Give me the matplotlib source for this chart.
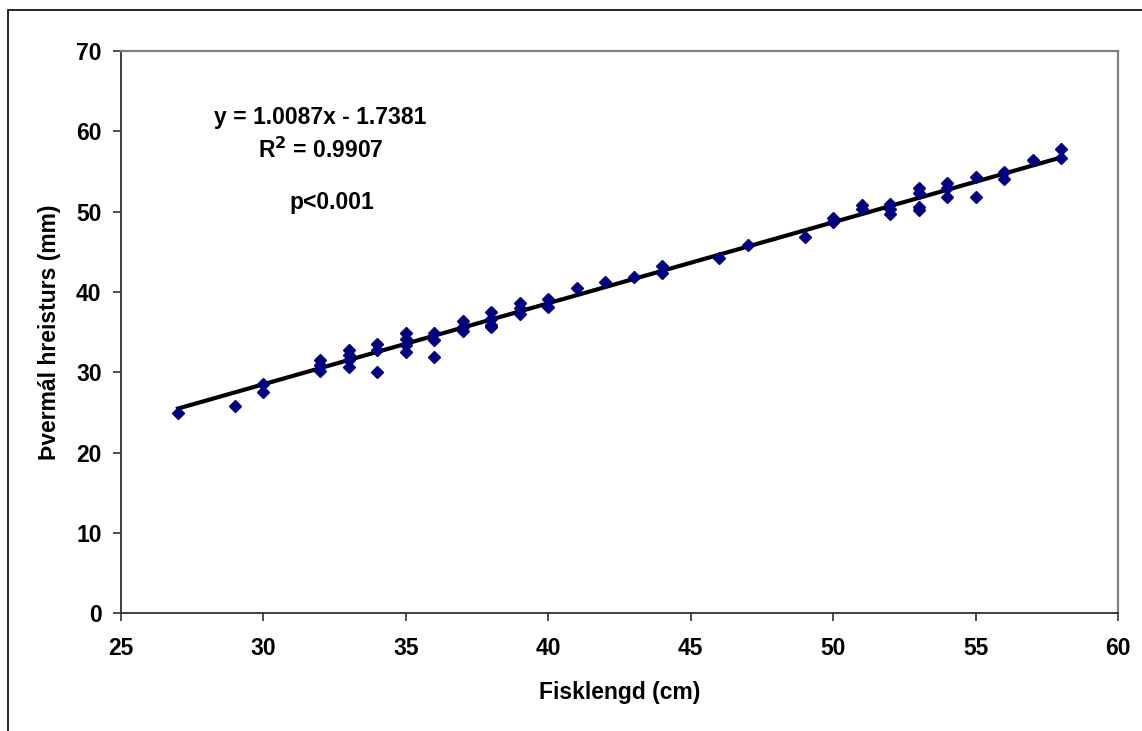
import matplotlib
matplotlib.use("Agg")
import matplotlib.pyplot as plt
import numpy as np
from matplotlib.patches import Rectangle

plt.rcParams["font.family"] = ["Liberation Sans", "DejaVu Sans"]
plt.rcParams["font.weight"] = "bold"

# Fish length (cm) and scale diameter (mm), one entry per fish
fish_length = [
    27, 29, 30, 30, 32, 32, 32, 33, 33, 33, 33, 34, 34, 34,
    35, 35, 35, 35, 36, 36, 36, 37, 37, 37, 38, 38, 38, 38,
    39, 39, 39, 40, 40, 41, 42, 43, 44, 44, 46, 47, 49, 50, 50,
    51, 51, 52, 52, 52, 53, 53, 53, 53, 54, 54, 54, 55, 55,
    56, 56, 57, 58, 58,
]
scale_diameter = [
    25.0, 25.8, 28.6, 27.6, 31.6, 30.9, 30.2, 32.8, 32.2, 31.5, 30.7, 33.5, 32.8, 30.0,
    34.9, 34.1, 33.4, 32.5, 34.9, 34.0, 31.9, 36.4, 35.7, 35.1, 37.5, 36.6, 35.9, 35.6,
    38.7, 38.0, 37.3, 39.1, 38.2, 40.5, 41.2, 41.9, 43.3, 42.4, 44.3, 45.9, 46.8, 49.2, 48.7,
    50.8, 50.3, 51.0, 50.4, 49.7, 52.9, 52.4, 50.6, 50.2, 53.6, 53.0, 51.8, 54.3, 51.8,
    55.0, 54.1, 56.5, 57.8, 56.7,
]

# Linear trend line reported on the chart
slope = 1.0087
intercept = -1.7381
r_squared = 0.9907

x_ticks = [25, 30, 35, 40, 45, 50, 55, 60]
y_ticks = [0, 10, 20, 30, 40, 50, 60, 70]

fig = plt.figure(figsize=(11.42, 7.31), dpi=100)
ax = fig.add_axes([0.106, 0.161, 0.873, 0.769])

# Outer chart frame (only the top and left edges fall inside the image)
fig.patches.append(
    Rectangle((8 / 1142, -0.1), 1.2, 1 - 10 / 731 + 0.1, transform=fig.transFigure,
              fill=False, edgecolor="black", linewidth=1.2)
)

x = np.array(fish_length, dtype=float)
y = np.array(scale_diameter, dtype=float)

fit_x = np.array([x.min(), x.max()])
ax.plot(fit_x, slope * fit_x + intercept, color="black", linewidth=3, zorder=2)
ax.plot(x, y, linestyle="none", marker="D", markersize=5.9,
        color="#000080", markeredgecolor="#000080", zorder=3)

ax.set_xlim(25, 60)
ax.set_ylim(0, 70)
ax.set_xticks(x_ticks)
ax.set_yticks(y_ticks)
ax.tick_params(direction="out", length=6, width=1.2, color="#303030",
               labelsize=16.5)
ax.tick_params(axis="x", pad=11)
ax.tick_params(axis="y", pad=8)
for lab in ax.get_xticklabels() + ax.get_yticklabels():
    lab.set_fontweight("bold")

for side in ("left", "bottom"):
    ax.spines[side].set_color("#303030")
    ax.spines[side].set_linewidth(1.3)
for side in ("top", "right"):
    ax.spines[side].set_color("#808080")
    ax.spines[side].set_linewidth(1.6)

ax.set_xlabel("Fisklengd (cm)", fontsize=16.5, fontweight="bold", labelpad=15)
ax.set_ylabel("Þvermál hreisturs (mm)", fontsize=16.5, fontweight="bold", labelpad=11)

sign = "-" if intercept < 0 else "+"
ax.text(32.0, 61.8, f"y = {slope:.4f}x {sign} {abs(intercept):.4f}",
        fontsize=16.5, fontweight="bold", ha="center", va="center")
ax.text(32.0, 57.7, f"R$^\\mathbf{{2}}$ = {r_squared:.4f}",
        fontsize=16.5, fontweight="bold", ha="center", va="center")
ax.text(32.4, 51.1, "p<0.001",
        fontsize=16.5, fontweight="bold", ha="center", va="center")

fig.savefig("out.png", dpi=100)
